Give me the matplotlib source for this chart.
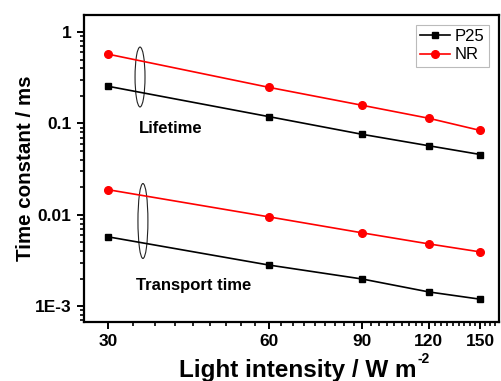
import numpy as np
import matplotlib
matplotlib.use("Agg")
import matplotlib.pyplot as plt
from matplotlib.patches import Ellipse
from matplotlib.ticker import FixedLocator, FixedFormatter, LogLocator, NullFormatter

plt.rcParams['font.family'] = ['Liberation Sans', 'DejaVu Sans']

intensity = [30, 60, 90, 120, 150]
p25_lifetime = [0.255, 0.119, 0.076, 0.057, 0.0457]
nr_lifetime = [0.573, 0.249, 0.158, 0.114, 0.0838]
p25_transport = [0.00573, 0.00282, 0.00198, 0.00143, 0.00119]
nr_transport = [0.0188, 0.0095, 0.00634, 0.0048, 0.00392]

y_ticks = [1, 0.1, 0.01, 0.001]
y_ticklabels = ["1", "0.1", "0.01", "1E-3"]
x_ticks = [30, 60, 90, 120, 150]

fig = plt.figure(figsize=(5.01, 3.81), dpi=100)
ax = fig.add_axes([84 / 501, 59 / 381, 415 / 501, 307 / 381])

ax.plot(intensity, p25_lifetime, '-s', color='black', lw=1.2, ms=5, label='P25')
ax.plot(intensity, nr_lifetime, '-o', color='red', lw=1.2, ms=5.5, label='NR')
ax.plot(intensity, p25_transport, '-s', color='black', lw=1.2, ms=5)
ax.plot(intensity, nr_transport, '-o', color='red', lw=1.2, ms=5.5)

ax.set_xscale('log')
ax.set_yscale('log')
ax.set_xlim(27, 162.6)
ax.set_ylim(6.7e-4, 1.54)

ax.xaxis.set_major_locator(FixedLocator(x_ticks))
ax.xaxis.set_major_formatter(FixedFormatter([str(v) for v in x_ticks]))
ax.xaxis.set_minor_locator(FixedLocator([30 + k * 10 / 3 for k in range(40)]))
ax.xaxis.set_minor_formatter(NullFormatter())
ax.yaxis.set_major_locator(FixedLocator(y_ticks))
ax.yaxis.set_major_formatter(FixedFormatter(y_ticklabels))
ax.yaxis.set_minor_locator(LogLocator(base=10, subs=np.arange(2, 10)))
ax.yaxis.set_minor_formatter(NullFormatter())

for s in ax.spines.values():
    s.set_linewidth(1.6)
ax.tick_params(which='major', length=5, width=1.4, labelsize=12.5, pad=4)
ax.tick_params(which='minor', length=3, width=1.2)
for lab in ax.get_xticklabels() + ax.get_yticklabels():
    lab.set_fontweight('bold')

ax.set_xlabel('Light intensity / W m', fontsize=17.5, fontweight='bold')
ax.set_ylabel('Time constant / ms', fontsize=14.8, fontweight='bold')
ax.xaxis.set_label_coords(0.514, -0.12)
ax.yaxis.set_label_coords(-0.118, 0.5)
fig.text(417 / 501, 1 - 352 / 381, '-2', fontsize=10, fontweight='bold',
         ha='left', va='top')

ax.add_patch(Ellipse((0.135, 0.798), 0.024, 0.195, transform=ax.transAxes,
                     fill=False, ec='#222222', lw=0.8))
ax.add_patch(Ellipse((0.142, 0.329), 0.024, 0.244, transform=ax.transAxes,
                     fill=False, ec='#222222', lw=0.8))
ax.text(0.21, 0.629, 'Lifetime', transform=ax.transAxes, ha='center', va='center',
        fontsize=12, fontweight='bold')
ax.text(0.264, 0.12, 'Transport time', transform=ax.transAxes, ha='center', va='center',
        fontsize=12, fontweight='bold')

leg = ax.legend(loc='upper right', fontsize=12, frameon=True, fancybox=False,
                handlelength=1.8, borderpad=0.25, labelspacing=0.2, handletextpad=0.3,
                borderaxespad=0.6)
leg.get_frame().set_edgecolor('#aaaaaa')
leg.get_frame().set_linewidth(0.8)

fig.savefig('out.png', dpi=100)
